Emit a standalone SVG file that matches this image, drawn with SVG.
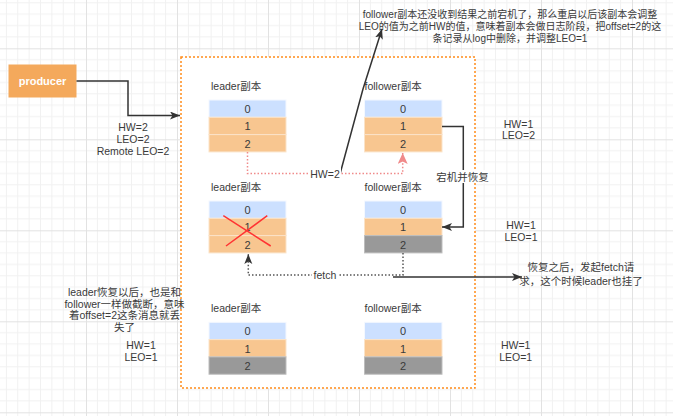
<svg xmlns="http://www.w3.org/2000/svg" width="673" height="416" viewBox="0 0 673 416">
<defs>
<pattern id="grid" patternUnits="userSpaceOnUse" x="-5" y="-42.7" width="91" height="91">
<path d="M11.375 0V91M22.75 0V91M34.125 0V91M45.5 0V91M56.875 0V91M68.25 0V91M79.625 0V91M0 11.375H91M0 22.75H91M0 34.125H91M0 45.5H91M0 56.875H91M0 68.25H91M0 79.625H91" stroke="#f1f1f1" stroke-width="1" fill="none"/>
<path d="M0.5 0V91M0 0.5H91" stroke="#e2e2e2" stroke-width="1" fill="none"/>
</pattern>
<marker id="arrD" markerUnits="userSpaceOnUse" markerWidth="12" markerHeight="10" refX="10" refY="4" orient="auto">
<path d="M0 0L10 4L0 8L2.5 4z" fill="#333333"/>
</marker>
<marker id="arrP" markerUnits="userSpaceOnUse" markerWidth="12" markerHeight="12" refX="11" refY="5" orient="auto">
<path d="M0 0L11 5L0 10L2.5 5z" fill="#f08a8a"/>
</marker>
<style>
text{font-family:"Liberation Sans","Noto Sans CJK SC",sans-serif;font-size:10.5px;fill:#3a3a3a;dominant-baseline:central}
.c{text-anchor:middle}
.t{font-size:10px}
.num{font-size:11px;text-anchor:middle}
.blue{fill:#cce0ff;stroke:#f4f8ff;stroke-width:1}
.org{fill:#f8c690;stroke:#fbe3c8;stroke-width:1}
.gry{fill:#999999;stroke:#bdbdbd;stroke-width:1}
.ln{fill:none;stroke:#333333;stroke-width:1.5}
.dot{fill:none;stroke:#555555;stroke-width:1.5;stroke-dasharray:1.5 2}
.pdot{fill:none;stroke:#f08a8a;stroke-width:1.5;stroke-dasharray:1.5 2}
.lbl{fill:#ffffff}
</style>
</defs>
<rect width="673" height="416" fill="#ffffff"/>
<rect width="673" height="416" fill="url(#grid)"/>

<g id="container">
<rect x="181" y="57" width="294" height="331" fill="#ffffff" stroke="#ff8c1a" stroke-width="1.5" stroke-dasharray="2 2"/>
</g>

<g id="producer">
<rect x="8.5" y="64.5" width="68" height="33" fill="#f4a95c"/>
<text x="42.5" y="81" class="c" style="fill:#ffffff;font-weight:bold;font-size:11px">producer</text>
</g>

<g id="leader1">
<text x="211" y="86">leader副本</text>
<rect class="blue" x="209" y="100" width="77" height="17.3"/>
<rect class="org" x="209" y="117.3" width="77" height="17.3"/>
<rect class="org" x="209" y="134.6" width="77" height="17.3"/>
<text class="num" x="247.5" y="109">0</text>
<text class="num" x="247.5" y="126.3">1</text>
<text class="num" x="247.5" y="143.6">2</text>
</g>

<g id="follower1">
<text x="364.5" y="86">follower副本</text>
<rect class="blue" x="364.5" y="100" width="77.5" height="17.3"/>
<rect class="org" x="364.5" y="117.3" width="77.5" height="17.3"/>
<rect class="org" x="364.5" y="134.6" width="77.5" height="17.3"/>
<text class="num" x="403" y="109">0</text>
<text class="num" x="403" y="126.3">1</text>
<text class="num" x="403" y="143.6">2</text>
</g>

<g id="leader2">
<text x="211" y="187">leader副本</text>
<rect class="blue" x="209" y="201" width="77" height="17.3"/>
<rect class="org" x="209" y="218.3" width="77" height="17.3"/>
<rect class="org" x="209" y="235.6" width="77" height="17.3"/>
<text class="num" x="247.5" y="210">0</text>
<text class="num" x="247.5" y="227.3">1</text>
<text class="num" x="247.5" y="244.6">2</text>
<path d="M223.3 215.7L270.7 246M267.3 215.7L226 246" stroke="#ff3333" stroke-width="1.5" fill="none"/>
</g>

<g id="follower2">
<text x="364.5" y="187">follower副本</text>
<rect class="blue" x="364.5" y="201" width="77.5" height="17.3"/>
<rect class="org" x="364.5" y="218.3" width="77.5" height="17.3"/>
<rect class="gry" x="364.5" y="235.6" width="77.5" height="17.3"/>
<text class="num" x="403" y="210">0</text>
<text class="num" x="403" y="227.3">1</text>
<text class="num" x="403" y="244.6">2</text>
</g>

<g id="leader3">
<text x="211" y="308">leader副本</text>
<rect class="blue" x="209" y="322.3" width="77" height="17.3"/>
<rect class="org" x="209" y="339.6" width="77" height="17.3"/>
<rect class="gry" x="209" y="356.9" width="77" height="17.3"/>
<text class="num" x="247.5" y="331.3">0</text>
<text class="num" x="247.5" y="348.6">1</text>
<text class="num" x="247.5" y="365.9">2</text>
</g>

<g id="follower3">
<text x="364.5" y="308">follower副本</text>
<rect class="blue" x="364.5" y="322.3" width="77.5" height="17.3"/>
<rect class="org" x="364.5" y="339.6" width="77.5" height="17.3"/>
<rect class="gry" x="364.5" y="356.9" width="77.5" height="17.3"/>
<text class="num" x="403" y="331.3">0</text>
<text class="num" x="403" y="348.6">1</text>
<text class="num" x="403" y="365.9">2</text>
</g>

<g id="connectors">
<path class="ln" d="M76.5 81H128V115.5H180" marker-end="url(#arrD)"/>
<path class="pdot" d="M247.5 152V173.5H402.7V153" marker-end="url(#arrP)"/>
<path class="ln" d="M340 174L363 89L382 29" marker-end="url(#arrD)"/>
<path class="ln" d="M442 126.5H463.3V227H442" marker-end="url(#arrD)"/>
<path class="dot" d="M403 253V275H248.3V254" marker-end="url(#arrD)"/>
<path class="ln" d="M393 277H522" stroke-width="2" marker-end="url(#arrD)"/>
</g>

<g id="labels">
<rect class="lbl" x="309" y="167" width="32" height="12"/>
<text x="325" y="173.5" class="c">HW=2</text>
<rect class="lbl" x="437" y="170" width="52" height="13"/>
<text x="462.5" y="176.5" class="c">宕机并恢复</text>
<rect class="lbl" x="312" y="269" width="27" height="12"/>
<text x="325" y="275" class="c">fetch</text>

<text x="133" y="127" class="c">HW=2</text>
<text x="133" y="139" class="c">LEO=2</text>
<text x="133" y="151" class="c">Remote LEO=2</text>

<text x="510" y="14.5" class="c t">follower副本还没收到结果之前宕机了，那么重启以后该副本会调整</text>
<text x="510" y="26.5" class="c t">LEO的值为之前HW的值，意味着副本会做日志阶段，把offset=2的这</text>
<text x="510" y="38" class="c t">条记录从log中删除，并调整LEO=1</text>

<text x="518.5" y="123.5" class="c">HW=1</text>
<text x="518.5" y="135" class="c">LEO=2</text>
<text x="521" y="225" class="c">HW=1</text>
<text x="521" y="237" class="c">LEO=1</text>

<text x="581" y="267" class="c">恢复之后，发起fetch请</text>
<text x="581" y="281" class="c">求，这个时候leader也挂了</text>

<text x="124.5" y="292" class="c">leader恢复以后，也是和</text>
<text x="124.5" y="303.5" class="c">follower一样做截断，意味</text>
<text x="124.5" y="315" class="c">着offset=2这条消息就丢</text>
<text x="124.5" y="326.5" class="c">失了</text>
<text x="141" y="345" class="c">HW=1</text>
<text x="141" y="357" class="c">LEO=1</text>

<text x="515.7" y="345" class="c">HW=1</text>
<text x="515.7" y="357" class="c">LEO=1</text>
</g>
</svg>
